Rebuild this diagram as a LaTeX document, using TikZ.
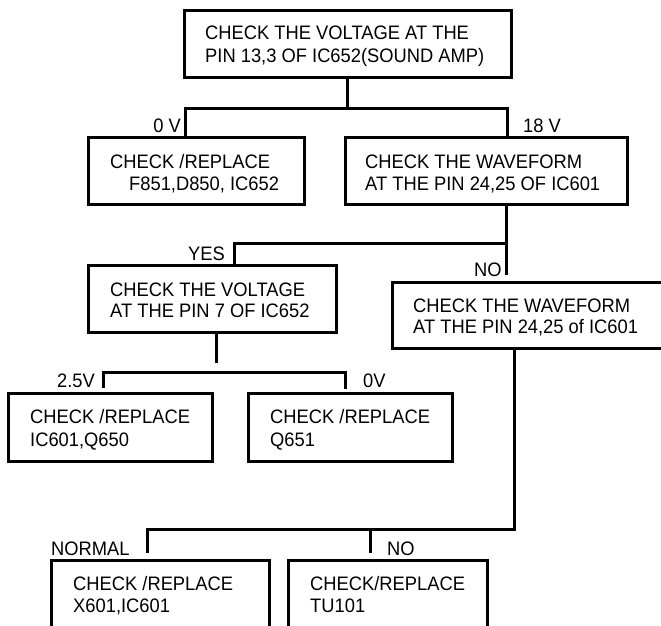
\documentclass[tikz,border=0pt]{standalone}
\usepackage{fontspec}
\setmainfont{Liberation Sans}[FakeStretch=0.94]
\begin{document}
\begin{tikzpicture}[x=1pt,y=-1pt,
  box/.style={draw=black, line width=3pt, fill=none, inner sep=0pt},
  conn/.style={draw=black, line width=3pt},
  txt/.style={anchor=base west, inner sep=0pt, font=\fontsize{19.5}{22}\selectfont}]
\useasboundingbox (0,0) rectangle (661,625);
\clip (0,0) rectangle (661,625);
% boxes
\node[box, minimum width=327pt, minimum height=67pt] (top) at (347.5,43.5) {};
\node[box, minimum width=216pt, minimum height=67pt] (L2) at (196,170.5) {};
\node[box, minimum width=282pt, minimum height=67pt] (R2) at (486,170.5) {};
\node[box, minimum width=248pt, minimum height=67pt] (L3) at (212,298.5) {};
\node[box, minimum width=300pt, minimum height=66pt] (R3) at (542,315) {};
\node[box, minimum width=204pt, minimum height=68pt] (L4) at (110,427) {};
\node[box, minimum width=204pt, minimum height=68pt] (M4) at (350,427) {};
\node[box, minimum width=218pt, minimum height=84pt] (L5) at (160,602) {};
\node[box, minimum width=199pt, minimum height=84pt] (R5) at (387.5,602) {};
% texts
\node[txt] (t1a) at (205,39) {CHECK THE VOLTAGE AT THE};
\node[txt] (t1b) at (205,62) {PIN 13,3 OF IC652(SOUND AMP)};
\node[txt] (t2a) at (110,168) {CHECK /REPLACE};
\node[txt] (t2b) at (129,190) {F851,D850, IC652};
\node[txt] (t3a) at (365,168) {CHECK THE WAVEFORM};
\node[txt] (t3b) at (365,190) {AT THE PIN 24,25 OF IC601};
\node[txt] (t4a) at (110,296) {CHECK THE VOLTAGE};
\node[txt] (t4b) at (110,317) {AT THE PIN 7 OF IC652};
\node[txt] (t5a) at (413,312) {CHECK THE WAVEFORM};
\node[txt] (t5b) at (413,333) {AT THE PIN 24,25 of IC601};
\node[txt] (t6a) at (30,423) {CHECK /REPLACE};
\node[txt] (t6b) at (30,446) {IC601,Q650};
\node[txt] (t7a) at (270,423) {CHECK /REPLACE};
\node[txt] (t7b) at (270,446) {Q651};
\node[txt] (t8a) at (73,590) {CHECK /REPLACE};
\node[txt] (t8b) at (73,612) {X601,IC601};
\node[txt] (t9a) at (310,590) {CHECK/REPLACE};
\node[txt] (t9b) at (310,612) {TU101};
% labels
\node[txt, anchor=base east] (l0v) at (181,132) {0 V};
\node[txt] (l18v) at (523,132) {18 V};
\node[txt] (lyes) at (188,260) {YES};
\node[txt] (lno1) at (474,276) {NO};
\node[txt] (l25v) at (57,387) {2.5V};
\node[txt] (l0v2) at (363,387) {0V};
\node[txt] (lnorm) at (51,555) {NORMAL};
\node[txt] (lno2) at (387,555) {NO};
% connector coordinates
\coordinate (j1) at (347.5,108);
\coordinate (a0) at (185.5,108);
\coordinate (a1) at (507,108);
\coordinate (b1) at (506,243);
\coordinate (b0) at (234,243);
\coordinate (b2) at (506,275);
\coordinate (c0) at (216,363);
\coordinate (c1) at (103,372);
\coordinate (c2) at (345,372);
\coordinate (c3) at (103,388);
\coordinate (c4) at (345,389);
\coordinate (d1) at (514,529);
\coordinate (d0) at (147,529);
\coordinate (d2) at (147,553);
\coordinate (d3) at (370,529);
\coordinate (d4) at (370,553);
% connectors
\draw[conn] (top.south) -- (j1);
\draw[conn] (a0 |- L2.north) -- (a0) -- (a1) -- (a1 |- R2.north);
\draw[conn] (b1 |- R2.south) -- (b2);
\draw[conn] (b1) -- (b0) -- (b0 |- L3.north);
\draw[conn] (c0 |- L3.south) -- (c0);
\draw[conn] (c3) -- (c1) -- (c2) -- (c4);
\draw[conn] (d1 |- R3.south) -- (d1) -- (d0) -- (d2);
\draw[conn] (d3) -- (d4);
\end{tikzpicture}
\end{document}
